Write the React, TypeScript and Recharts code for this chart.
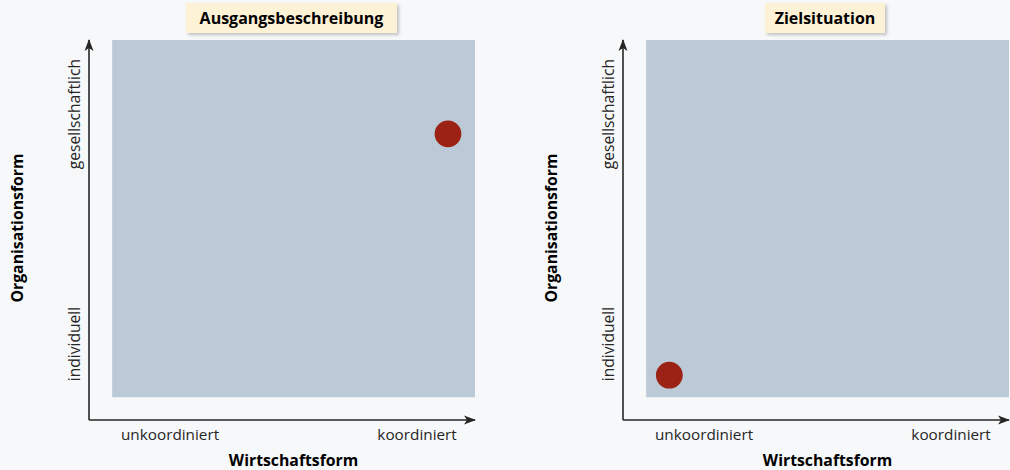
import React from 'react';
import { ScatterChart, Scatter, XAxis, YAxis, ReferenceArea } from 'recharts';

// ---- data ----
const panelTitles = ['Ausgangsbeschreibung', 'Zielsituation'];
const xAxisTitle = 'Wirtschaftsform';
const yAxisTitle = 'Organisationsform';
const xTickValues = [21, 85];
const xTickLabels = ['unkoordiniert', 'koordiniert'];
const yTickValues = [20, 80.5];
const yTickLabels = ['individuell', 'gesellschaftlich'];
const fieldX = [6, 100];
const fieldY = [6, 100];
const ausgangPoint = [{ x: 93, y: 75.3 }];
const zielPoint = [{ x: 12, y: 11.8 }];
const panelPoints = [ausgangPoint, zielPoint];

const FONT = '"Open Sans", "Noto Sans", sans-serif';
const BG = '#f6f8fa';
const FIELD = '#bccad7';
const DOT = '#9b2214';
const INK = '#262626';

const fmtX = (v: number) => xTickLabels[xTickValues.indexOf(v)] ?? '';
const fmtY = (v: number) => yTickLabels[yTickValues.indexOf(v)] ?? '';

const XTick = (props: any) => {
  const { x, y, payload } = props;
  return (
    <text x={x} y={y} dy={10.5} textAnchor="middle" fontFamily={FONT} fontSize={15.3} fill={INK}>
      {fmtX(payload.value)}
    </text>
  );
};

const YTick = (props: any) => {
  const { x, y, payload } = props;
  const cx = x - 15;
  return (
    <text
      x={cx}
      y={y}
      transform={`rotate(-90, ${cx}, ${y})`}
      textAnchor="middle"
      dominantBaseline="central"
      fontFamily={FONT}
      fontSize={15.6}
      fill={INK}
    >
      {fmtY(payload.value)}
    </text>
  );
};

const XTitle = (props: any) => {
  const vb = props.viewBox;
  const cx = vb.x + (vb.width * (fieldX[0] + fieldX[1])) / 200;
  return (
    <text x={cx} y={vb.y + 46} textAnchor="middle" fontFamily={FONT} fontWeight={700} fontSize={15.8} fill="#000">
      {xAxisTitle}
    </text>
  );
};

const YTitle = (props: any) => {
  const vb = props.viewBox;
  const cx = 17;
  const cy = vb.y + vb.height / 2 - 2;
  return (
    <text
      x={cx}
      y={cy}
      transform={`rotate(-90, ${cx}, ${cy})`}
      textAnchor="middle"
      dominantBaseline="central"
      fontFamily={FONT}
      fontWeight={700}
      fontSize={15.8}
      fill="#000"
    >
      {yAxisTitle}
    </text>
  );
};

const Dot = (props: any) => <circle cx={props.cx} cy={props.cy} r={13.4} fill={DOT} />;

const Panel = ({ idx }: { idx: number }) => (
  <ScatterChart width={476} height={470} margin={{ top: 40, right: 1, bottom: 0, left: 29 }}>
    <XAxis
      type="number"
      dataKey="x"
      domain={[0, 100]}
      ticks={xTickValues}
      tick={<XTick />}
      tickLine={false}
      tickSize={0}
      tickMargin={9}
      height={50}
      axisLine={{ stroke: INK, strokeWidth: 1.6, markerEnd: 'url(#arrowHead)' }}
      label={<XTitle />}
      allowDataOverflow
    />
    <YAxis
      type="number"
      dataKey="y"
      domain={[0, 100]}
      ticks={yTickValues}
      tick={<YTick />}
      tickLine={false}
      tickSize={0}
      tickMargin={0}
      width={60}
      axisLine={{ stroke: INK, strokeWidth: 1.6, markerStart: 'url(#arrowHead)' }}
      label={<YTitle />}
      allowDataOverflow
    />
    <ReferenceArea
      x1={fieldX[0]}
      x2={fieldX[1]}
      y1={fieldY[0]}
      y2={fieldY[1]}
      fill={FIELD}
      fillOpacity={1}
      stroke="none"
    />
    <Scatter data={panelPoints[idx]} shape={<Dot />} isAnimationActive={false} />
  </ScatterChart>
);

const titleBox = (left: number, width: number, text: string) => (
  <div
    style={{
      position: 'absolute',
      left,
      top: 3,
      width,
      height: 30,
      background: '#fdf2d6',
      boxShadow: '2px 2px 3px rgba(0,0,0,0.22)',
      display: 'flex',
      alignItems: 'center',
      justifyContent: 'center',
      fontFamily: FONT,
      fontWeight: 700,
      fontSize: 16,
      color: '#000',
    }}
  >
    {text}
  </div>
);

export default function App() {
  return (
    <div
      style={{
        position: 'absolute',
        left: 0,
        top: 0,
        width: 1010,
        height: 470,
        background: BG,
        overflow: 'hidden',
      }}
    >
      <svg width={0} height={0} style={{ position: 'absolute' }}>
        <defs>
          <marker
            id="arrowHead"
            viewBox="0 0 12 10"
            refX="11"
            refY="5"
            markerWidth="12"
            markerHeight="10"
            markerUnits="userSpaceOnUse"
            orient="auto-start-reverse"
          >
            <path d="M0,0.5 L12,5 L0,9.5 L3,5 Z" fill={INK} />
          </marker>
        </defs>
      </svg>
      <div style={{ position: 'absolute', left: 0, top: 0 }}>
        <Panel idx={0} />
      </div>
      <div style={{ position: 'absolute', left: 534, top: 0 }}>
        <Panel idx={1} />
      </div>
      {titleBox(186, 211, panelTitles[0])}
      {titleBox(765, 120, panelTitles[1])}
    </div>
  );
}
